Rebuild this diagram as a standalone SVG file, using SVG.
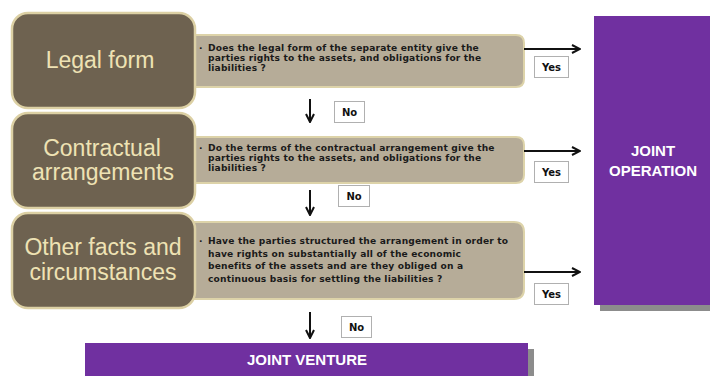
<svg xmlns="http://www.w3.org/2000/svg" width="710" height="376" viewBox="0 0 710 376">
<defs>
<style>
.big{fill:#6e6250;stroke:#dcd0a4;stroke-width:2.5}
.q{fill:#b6ac98;stroke:#ddd3a9;stroke-width:2}
.lbl{font-family:"Liberation Sans",Arial,sans-serif;font-size:23px;fill:#eee2b4;text-anchor:middle}
.qt{font-family:"DejaVu Sans",Verdana,sans-serif;font-size:9.1px;letter-spacing:0.18px;font-weight:bold;fill:#1a1a1a}
.tag{fill:#ffffff;stroke:#b0b0b0;stroke-width:1}
.tt{font-family:"DejaVu Sans",Verdana,sans-serif;font-size:10px;font-weight:bold;fill:#111;text-anchor:middle}
.purple{fill:#7030a0}
.shadow{fill:#8c8c8c}
.pt{font-family:"Liberation Sans",Arial,sans-serif;font-size:15px;font-weight:bold;fill:#ffffff;text-anchor:middle}
.ar{stroke:#111;stroke-width:2;fill:none}
</style>
<marker id="ah" viewBox="0 0 10 10" refX="9" refY="5" markerWidth="5" markerHeight="5" orient="auto">
<path d="M1,1 L9,5 L1,9" fill="none" stroke="#111" stroke-width="2"/>
</marker>
</defs>
<rect width="710" height="376" fill="#ffffff"/>

<g id="joint-operation">
<rect class="shadow" x="600" y="22" width="110" height="289"/>
<rect class="purple" x="594" y="16" width="116" height="289"/>
<text class="pt" x="653" y="156">JOINT</text>
<text class="pt" x="653" y="176">OPERATION</text>
</g>

<g id="joint-venture">
<rect class="shadow" x="91" y="349" width="443" height="30"/>
<rect class="purple" x="85" y="343" width="443" height="36"/>
<text class="pt" x="307" y="365">JOINT VENTURE</text>
</g>

<g id="q1">
<path class="q" d="M180,35 H516 Q524,35 524,43 V79 Q524,87 516,87 H180 Z"/>
<text class="qt" x="199" y="50.5">·</text>
<text class="qt" x="208" y="50.5">Does the legal form of the separate entity give the</text>
<text class="qt" x="208" y="60.5">parties rights to the assets, and obligations for the</text>
<text class="qt" x="208" y="70.5">liabilities ?</text>
</g>
<g id="legal-form">
<rect class="big" x="12" y="13" width="183" height="95" rx="16"/>
<text class="lbl" x="100" y="68" font-size="24">Legal form</text>
</g>

<g id="q2">
<path class="q" d="M180,137 H516 Q524,137 524,145 V175 Q524,183 516,183 H180 Z"/>
<text class="qt" x="199" y="151">·</text>
<text class="qt" x="208" y="151">Do the terms of the contractual arrangement give the</text>
<text class="qt" x="208" y="161">parties rights to the assets, and obligations for the</text>
<text class="qt" x="208" y="171">liabilities ?</text>
</g>
<g id="contractual">
<rect class="big" x="12" y="113" width="183" height="95" rx="16"/>
<text class="lbl" x="102" y="156">Contractual</text>
<text class="lbl" x="103" y="180">arrangements</text>
</g>

<g id="q3">
<path class="q" d="M180,222 H514 Q524,222 524,232 V289 Q524,299 514,299 H180 Z"/>
<text class="qt" x="199" y="244">·</text>
<text class="qt" x="208" y="244">Have the parties structured the arrangement in order to</text>
<text class="qt" x="208" y="256.5">have rights on substantially all of the economic</text>
<text class="qt" x="208" y="269">benefits of the assets and are they obliged on a</text>
<text class="qt" x="208" y="281.5">continuous basis for settling the liabilities ?</text>
</g>
<g id="other-facts">
<rect class="big" x="12" y="213" width="183" height="95" rx="16"/>
<text class="lbl" x="103" y="255">Other facts and</text>
<text class="lbl" x="103" y="280">circumstances</text>
</g>

<g id="connectors">
<line class="ar" x1="524" y1="49" x2="580" y2="49" marker-end="url(#ah)"/>
<line class="ar" x1="524" y1="151" x2="580" y2="151" marker-end="url(#ah)"/>
<line class="ar" x1="524" y1="272" x2="580" y2="272" marker-end="url(#ah)"/>
<line class="ar" x1="310" y1="99" x2="310" y2="122" marker-end="url(#ah)"/>
<line class="ar" x1="310" y1="190" x2="310" y2="215" marker-end="url(#ah)"/>
<line class="ar" x1="310" y1="312" x2="310" y2="338" marker-end="url(#ah)"/>
<rect class="tag" x="534.5" y="56.5" width="34" height="21"/>
<text class="tt" x="551.5" y="70.5">Yes</text>
<rect class="tag" x="534.5" y="161.5" width="34" height="21"/>
<text class="tt" x="551.5" y="175.5">Yes</text>
<rect class="tag" x="534.5" y="283.5" width="34" height="21"/>
<text class="tt" x="551.5" y="297.5">Yes</text>
<rect class="tag" x="334.5" y="101.5" width="30" height="21"/>
<text class="tt" x="349.5" y="115.5">No</text>
<rect class="tag" x="338.5" y="185.5" width="31" height="21"/>
<text class="tt" x="354" y="199.5">No</text>
<rect class="tag" x="341.5" y="316.5" width="30" height="21"/>
<text class="tt" x="356.5" y="330.5">No</text>
</g>
</svg>
